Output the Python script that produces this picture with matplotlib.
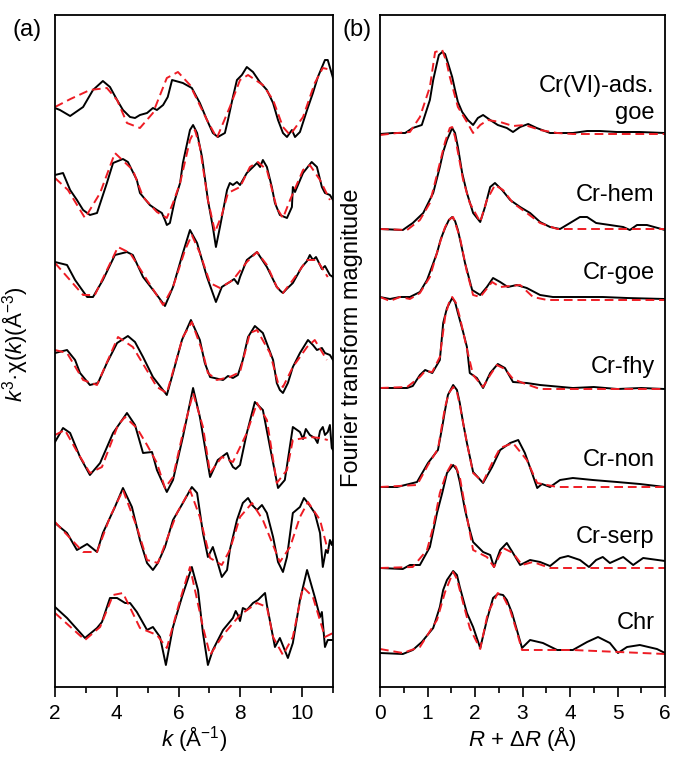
import matplotlib
matplotlib.use("Agg")
import matplotlib.pyplot as plt

plt.rcParams['font.family'] = ['Liberation Sans', 'DejaVu Sans']
plt.rcParams['mathtext.fontset'] = 'custom'
plt.rcParams['mathtext.rm'] = 'Liberation Sans'
plt.rcParams['mathtext.it'] = 'Liberation Sans:italic'
plt.rcParams['mathtext.bf'] = 'Liberation Sans:bold'

# sample names, top to bottom
samples = ["Cr(VI)-ads.\ngoe", "Cr-hem", "Cr-goe", "Cr-fhy", "Cr-non", "Cr-serp", "Chr"]

# ---------------- (a) k3-weighted EXAFS, stacked (arb. units) ----------------
k_ads = [2.00, 2.16, 2.49, 2.91, 3.23, 3.55, 3.78, 4.01, 4.20, 4.43, 4.59, 4.75, 4.98, 5.17, 5.30, 5.50, 5.65, 5.79, 6.14, 6.43,
         6.69, 6.92, 7.11, 7.27, 7.50, 7.60, 7.76, 7.89, 8.05, 8.21, 8.41, 8.63, 8.86, 9.06, 9.22, 9.38, 9.51, 9.67, 9.77, 9.93,
         10.16, 10.35, 10.51, 10.74, 10.83, 11.00]
chi_ads = [579, 577, 571, 580, 597, 606, 600, 587, 577, 570, 569, 572, 574, 579, 577, 582, 590, 607, 604, 599,
           584, 567, 554, 550, 554, 567, 590, 607, 612, 620, 615, 605, 597, 584, 567, 554, 550, 557, 550, 555,
           577, 594, 610, 627, 627, 609]
kfit_ads = [2.00, 2.50, 3.13, 3.68, 4.01, 4.33, 4.75, 5.17, 5.62, 5.98, 6.37, 6.92, 7.24, 7.66, 7.99, 8.25, 8.73, 9.06, 9.38, 9.61,
            10.03, 10.41, 10.67, 10.96]
chifit_ads = [580, 588, 597, 599, 587, 564, 559, 574, 609, 615, 602, 567, 549, 580, 607, 612, 602, 587, 560, 552,
              570, 604, 619, 617]

k_hem = [2.00, 2.26, 2.49, 2.71, 2.91, 3.13, 3.36, 3.68, 3.88, 4.20, 4.36, 4.65, 4.75, 5.07, 5.30, 5.46, 5.56, 5.62, 5.72, 5.88,
         6.05, 6.14, 6.37, 6.47, 6.60, 6.76, 6.95, 7.11, 7.21, 7.34, 7.57, 7.66, 7.76, 7.89, 7.99, 8.21, 8.41, 8.54, 8.64, 8.73,
         8.86, 9.02, 9.12, 9.28, 9.51, 9.67, 9.70, 9.77, 10.03, 10.31, 10.48, 10.64, 10.74, 10.90, 11.00]
chi_hem = [512, 514, 497, 487, 477, 472, 474, 504, 524, 528, 525, 507, 494, 482, 477, 474, 467, 462, 464, 487,
           504, 524, 557, 562, 554, 530, 487, 460, 440, 460, 497, 504, 502, 505, 502, 514, 520, 524, 520, 527,
           520, 500, 484, 472, 469, 480, 500, 495, 514, 525, 520, 500, 494, 492, 487]
kfit_hem = [2.00, 2.42, 2.97, 3.46, 3.94, 4.52, 4.85, 5.30, 5.62, 5.82, 6.05, 6.37, 6.53, 6.69, 6.95, 7.18, 7.40, 7.60, 7.99, 8.31,
            8.57, 8.86, 9.18, 9.38, 9.61, 10.03, 10.25, 10.58, 10.90]
chifit_hem = [509, 497, 469, 494, 534, 517, 490, 475, 469, 484, 504, 547, 557, 540, 487, 455, 472, 494, 500, 520,
              525, 517, 479, 469, 487, 517, 522, 507, 487]

k_goe = [2.00, 2.39, 2.65, 3.04, 3.23, 3.55, 3.94, 4.33, 4.52, 4.85, 5.30, 5.56, 5.82, 6.14, 6.37, 6.60, 6.92, 7.21, 7.40, 7.50,
         7.66, 7.80, 7.92, 7.99, 8.21, 8.54, 8.86, 9.18, 9.30, 9.38, 9.50, 9.70, 9.99, 10.16, 10.25, 10.35, 10.45, 10.58, 10.64, 10.74,
         10.90, 11.00]
chi_goe = [425, 422, 407, 390, 390, 407, 432, 435, 432, 410, 392, 381, 400, 434, 457, 444, 410, 385, 400, 402,
           405, 408, 403, 410, 427, 435, 420, 400, 396, 394, 398, 404, 420, 426, 432, 427, 430, 422, 418, 421,
           412, 410]
kfit_goe = [2.00, 2.91, 3.29, 4.04, 4.43, 4.98, 5.50, 5.82, 6.21, 6.43, 6.69, 7.02, 7.34, 7.76, 8.21, 8.54, 8.86, 9.18, 9.38, 9.70,
            10.16, 10.48, 10.83]
chifit_goe = [424, 392, 392, 440, 434, 407, 382, 400, 437, 452, 434, 404, 399, 407, 425, 435, 422, 400, 394, 407,
              427, 427, 410]

k_fhy = [2.00, 2.39, 2.65, 2.81, 3.13, 3.39, 3.68, 4.01, 4.36, 4.59, 4.85, 5.17, 5.62, 5.82, 6.11, 6.40, 6.69, 6.85, 7.02, 7.44,
         7.60, 7.76, 7.92, 8.08, 8.25, 8.47, 8.73, 9.06, 9.18, 9.28, 9.38, 9.54, 9.70, 9.93, 10.19, 10.35, 10.48, 10.64, 10.74, 10.90,
         11.00]
chi_fhy = [334, 337, 327, 314, 302, 304, 324, 344, 351, 345, 330, 310, 292, 314, 347, 367, 347, 324, 310, 307,
           311, 309, 312, 327, 350, 361, 354, 327, 304, 297, 294, 304, 320, 334, 347, 342, 337, 339, 334, 332,
           327]
kfit_fhy = [2.00, 2.39, 2.91, 3.36, 4.04, 4.52, 5.30, 5.62, 6.14, 6.43, 6.79, 6.95, 7.24, 7.66, 7.99, 8.31, 8.54, 8.96, 9.22, 9.38,
            9.70, 10.16, 10.41, 10.80]
chifit_fhy = [337, 334, 307, 302, 350, 340, 300, 294, 350, 365, 334, 314, 307, 310, 315, 354, 357, 334, 304, 300,
              320, 340, 347, 327]

k_non = [2.00, 2.26, 2.49, 2.81, 3.13, 3.46, 3.88, 4.33, 4.59, 4.85, 5.14, 5.30, 5.62, 5.82, 6.14, 6.47, 6.69, 7.02, 7.27, 7.40,
         7.57, 7.66, 7.76, 7.85, 7.99, 8.21, 8.47, 8.73, 8.96, 9.22, 9.44, 9.70, 9.93, 10.03, 10.12, 10.25, 10.41, 10.50, 10.58, 10.67,
         10.74, 10.83, 10.90, 10.96, 11.00]
chi_non = [245, 259, 254, 230, 212, 224, 254, 274, 262, 234, 235, 217, 195, 207, 250, 299, 270, 210, 227, 230,
           234, 226, 220, 218, 222, 254, 285, 277, 240, 199, 207, 260, 255, 248, 258, 252, 249, 244, 256, 260,
           252, 255, 262, 239, 237]
kfit_non = [2.00, 2.32, 2.74, 3.13, 3.52, 4.04, 4.27, 4.65, 4.98, 5.30, 5.56, 5.82, 6.14, 6.47, 6.79, 7.02, 7.40, 7.76, 8.21, 8.54,
            8.86, 9.18, 9.51, 9.70, 10.25, 10.58, 10.83]
chifit_non = [252, 257, 234, 214, 220, 262, 270, 259, 242, 224, 199, 210, 254, 294, 260, 214, 230, 225, 254, 284,
              267, 204, 217, 247, 250, 249, 247]

k_serp = [2.00, 2.39, 2.71, 3.04, 3.36, 3.55, 3.94, 4.20, 4.49, 4.75, 4.98, 5.17, 5.33, 5.56, 5.82, 6.14, 6.43, 6.60, 6.79, 6.95,
          7.11, 7.24, 7.40, 7.57, 7.66, 7.89, 8.08, 8.25, 8.38, 8.54, 8.70, 8.86, 9.06, 9.22, 9.38, 9.51, 9.70, 9.93, 10.06, 10.19,
          10.41, 10.58, 10.67, 10.77, 10.83, 10.90, 10.96, 11.00]
chi_serp = [164, 154, 137, 143, 135, 154, 180, 199, 180, 147, 124, 117, 124, 140, 167, 184, 200, 194, 154, 130,
            140, 127, 110, 117, 137, 167, 184, 189, 182, 177, 182, 174, 150, 125, 115, 130, 174, 180, 189, 184,
            174, 154, 120, 137, 134, 147, 142, 147]
kfit_serp = [2.00, 2.91, 3.36, 3.78, 4.20, 4.65, 4.98, 5.33, 5.95, 6.37, 6.69, 7.02, 7.40, 7.66, 7.99, 8.38, 8.73, 9.28, 9.61, 9.93,
             10.19, 10.58, 10.83]
chifit_serp = [165, 135, 135, 170, 197, 160, 127, 124, 174, 197, 170, 129, 122, 137, 170, 184, 167, 125, 140, 170,
               185, 167, 137]

k_chr = [2.00, 2.39, 2.97, 3.36, 3.52, 3.78, 4.01, 4.27, 4.43, 4.65, 4.98, 5.17, 5.40, 5.59, 5.82, 6.11, 6.43, 6.63, 6.79, 6.95,
         7.11, 7.44, 7.76, 7.85, 7.92, 7.99, 8.08, 8.21, 8.41, 8.57, 8.70, 8.80, 8.86, 9.12, 9.28, 9.54, 9.70, 9.93, 10.16, 10.41,
         10.58, 10.64, 10.74, 10.83, 11.00]
chi_chr = [80, 69, 49, 59, 65, 89, 89, 84, 84, 75, 57, 60, 50, 22, 60, 90, 120, 97, 54, 22,
           37, 57, 69, 76, 72, 66, 79, 77, 84, 87, 91, 94, 82, 40, 49, 29, 44, 87, 117, 90,
           70, 75, 40, 47, 47]
kfit_chr = [2.00, 2.97, 3.46, 3.88, 4.20, 4.75, 5.30, 5.62, 6.05, 6.37, 6.79, 7.02, 7.44, 7.99, 8.54, 8.86, 9.06, 9.38, 9.70, 10.03,
            10.35, 10.74, 11.00]
chifit_chr = [74, 47, 60, 92, 94, 59, 52, 39, 87, 120, 60, 32, 52, 72, 84, 80, 50, 32, 50, 100,
              90, 50, 54]

# ---------------- (b) Fourier transform magnitude, stacked (arb. units) ----------------
r_ads = [0.00, 0.27, 0.53, 0.69, 0.88, 1.05, 1.12, 1.20, 1.24, 1.31, 1.37, 1.43, 1.52, 1.58, 1.64, 1.73, 1.85, 1.96, 2.06, 2.17,
         2.32, 2.48, 2.67, 2.80, 2.95, 3.12, 3.30, 3.58, 4.06, 4.36, 4.63, 4.99, 5.47, 6.00]
ft_ads = [553, 554, 554, 559, 562, 587, 607, 624, 632, 635, 633, 624, 610, 597, 585, 575, 567, 562, 569, 572,
          567, 562, 559, 555, 560, 563, 559, 554, 554, 556, 556, 555, 555, 554]
rfit_ads = [0.00, 0.36, 0.63, 0.84, 1.05, 1.16, 1.31, 1.40, 1.47, 1.64, 1.83, 1.96, 2.11, 2.27, 2.53, 2.80, 3.05, 3.37, 3.73, 4.06,
            6.00]
ftfit_ads = [552, 554, 555, 570, 600, 635, 637, 625, 610, 580, 565, 554, 562, 567, 565, 561, 562, 557, 554, 553,
             553]

r_hem = [0.00, 0.48, 0.69, 0.91, 1.12, 1.26, 1.33, 1.41, 1.52, 1.58, 1.64, 1.73, 1.83, 1.96, 2.11, 2.21, 2.32, 2.42, 2.57, 2.74,
         2.95, 3.16, 3.37, 3.58, 3.79, 4.00, 4.21, 4.36, 4.55, 4.84, 5.12, 5.26, 5.41, 5.62, 6.00]
ft_hem = [458, 457, 464, 474, 494, 520, 535, 547, 559, 554, 540, 514, 494, 474, 465, 480, 500, 504, 497, 487,
          480, 474, 465, 460, 458, 464, 470, 470, 464, 462, 460, 457, 462, 462, 457]
rfit_hem = [0.00, 0.57, 0.84, 1.05, 1.26, 1.37, 1.47, 1.52, 1.58, 1.75, 1.89, 2.11, 2.25, 2.42, 2.59, 2.80, 3.09, 3.37, 3.73, 6.00]
ftfit_hem = [458, 457, 467, 484, 524, 545, 559, 560, 550, 507, 484, 465, 487, 502, 497, 484, 474, 464, 458, 458]

r_goe = [0.00, 0.21, 0.42, 0.63, 0.84, 0.99, 1.20, 1.28, 1.37, 1.45, 1.52, 1.58, 1.64, 1.71, 1.79, 1.94, 2.11, 2.25, 2.38, 2.53,
         2.69, 2.88, 3.09, 3.37, 3.64, 4.06, 4.69, 5.20, 6.00]
ft_goe = [390, 388, 390, 390, 395, 407, 434, 448, 459, 467, 470, 466, 457, 442, 424, 397, 392, 400, 409, 405,
          400, 402, 399, 392, 390, 390, 390, 389, 388]
rfit_goe = [0.00, 0.21, 0.42, 0.63, 0.84, 1.05, 1.26, 1.37, 1.47, 1.54, 1.68, 1.83, 1.96, 2.11, 2.36, 2.53, 2.74, 2.95, 3.22, 3.52,
            6.00]
ftfit_goe = [390, 386, 390, 388, 394, 410, 444, 460, 468, 470, 450, 415, 392, 390, 405, 400, 401, 402, 390, 387,
             387]

r_fhy = [0.00, 0.57, 0.69, 0.84, 0.95, 1.10, 1.26, 1.33, 1.41, 1.52, 1.58, 1.64, 1.75, 1.83, 1.89, 2.04, 2.17, 2.32, 2.48, 2.63,
         2.80, 3.09, 3.37, 4.06, 4.50, 5.00, 5.50, 6.00]
ft_fhy = [299, 299, 301, 312, 317, 314, 327, 364, 379, 389, 385, 374, 355, 340, 314, 309, 299, 314, 323, 319,
          305, 304, 302, 299, 300, 298, 299, 298]
rfit_fhy = [0.00, 0.57, 0.84, 0.95, 1.10, 1.26, 1.37, 1.45, 1.52, 1.60, 1.68, 1.83, 1.96, 2.17, 2.32, 2.46, 2.63, 2.80, 3.01, 3.37,
            4.00, 6.00]
ftfit_fhy = [299, 300, 310, 316, 315, 330, 370, 384, 390, 384, 370, 338, 312, 300, 312, 322, 318, 308, 304, 298,
             298, 298]

r_non = [0.00, 0.36, 0.78, 1.01, 1.22, 1.31, 1.37, 1.43, 1.54, 1.62, 1.68, 1.75, 1.83, 1.96, 2.17, 2.36, 2.53, 2.74, 2.91, 3.05,
         3.20, 3.31, 3.41, 3.58, 3.79, 4.06, 4.48, 4.99, 5.47, 6.00]
ft_non = [200, 200, 205, 224, 237, 260, 277, 292, 302, 297, 284, 264, 244, 215, 204, 220, 237, 244, 247, 234,
          214, 199, 203, 200, 207, 209, 207, 205, 203, 200]
rfit_non = [0.00, 0.78, 1.01, 1.22, 1.37, 1.45, 1.54, 1.62, 1.68, 1.83, 1.96, 2.17, 2.36, 2.53, 2.80, 3.09, 3.31, 3.73, 6.00]
ftfit_non = [200, 202, 222, 238, 280, 294, 300, 295, 282, 244, 214, 205, 224, 239, 244, 227, 204, 200, 200]

r_serp = [0.00, 0.48, 0.63, 0.84, 1.05, 1.20, 1.31, 1.41, 1.54, 1.62, 1.68, 1.79, 1.89, 1.96, 2.17, 2.32, 2.40, 2.53, 2.67, 2.80,
          2.95, 3.16, 3.37, 3.58, 3.79, 3.96, 4.21, 4.40, 4.55, 4.69, 4.84, 5.12, 5.33, 5.54, 6.00]
ft_serp = [119, 118, 122, 122, 140, 174, 194, 214, 222, 217, 205, 177, 157, 145, 135, 132, 120, 137, 144, 134,
           122, 127, 125, 121, 129, 131, 127, 120, 127, 130, 124, 130, 122, 129, 126]
rfit_serp = [0.00, 0.69, 0.99, 1.12, 1.26, 1.40, 1.52, 1.60, 1.68, 1.83, 1.96, 2.25, 2.40, 2.59, 2.80, 2.99, 3.22, 3.58, 6.00]
ftfit_serp = [119, 120, 137, 160, 194, 214, 224, 220, 210, 170, 137, 130, 120, 139, 134, 122, 125, 119, 119]

r_chr = [0.00, 0.48, 0.69, 0.88, 1.12, 1.26, 1.33, 1.41, 1.54, 1.62, 1.68, 1.83, 1.96, 2.11, 2.25, 2.38, 2.48, 2.59, 2.67, 2.78,
         2.84, 2.99, 3.16, 3.43, 3.73, 4.06, 4.36, 4.59, 4.84, 5.01, 5.20, 5.47, 5.83, 6.00]
ft_chr = [34, 33, 37, 45, 59, 80, 97, 107, 116, 112, 100, 74, 60, 39, 67, 89, 93, 92, 87, 74,
          64, 39, 47, 44, 37, 37, 45, 50, 44, 34, 40, 42, 38, 34]
rfit_chr = [0.00, 0.48, 0.84, 1.20, 1.37, 1.54, 1.62, 1.75, 1.89, 2.11, 2.27, 2.48, 2.60, 2.74, 2.87, 2.99, 3.37, 4.06, 6.00]
ftfit_chr = [38, 34, 40, 67, 95, 115, 108, 84, 59, 38, 74, 94, 90, 77, 57, 37, 37, 37, 33]

# label baselines in panel (b)
label_y = [595, 486, 408, 314, 221, 144, 58]

exafs = [(k_ads, chi_ads, kfit_ads, chifit_ads), (k_hem, chi_hem, kfit_hem, chifit_hem),
         (k_goe, chi_goe, kfit_goe, chifit_goe), (k_fhy, chi_fhy, kfit_fhy, chifit_fhy),
         (k_non, chi_non, kfit_non, chifit_non), (k_serp, chi_serp, kfit_serp, chifit_serp),
         (k_chr, chi_chr, kfit_chr, chifit_chr)]
ft = [(r_ads, ft_ads, rfit_ads, ftfit_ads), (r_hem, ft_hem, rfit_hem, ftfit_hem),
      (r_goe, ft_goe, rfit_goe, ftfit_goe), (r_fhy, ft_fhy, rfit_fhy, ftfit_fhy),
      (r_non, ft_non, rfit_non, ftfit_non), (r_serp, ft_serp, rfit_serp, ftfit_serp),
      (r_chr, ft_chr, rfit_chr, ftfit_chr)]

red = '#ee1c24'
fig = plt.figure(figsize=(6.73, 7.58), dpi=100)
ax1 = fig.add_axes([55 / 673, 71 / 758, 278 / 673, 672 / 758])
ax2 = fig.add_axes([380 / 673, 71 / 758, 285 / 673, 672 / 758])

for x, y, xf, yf in exafs:
    ax1.plot(x, y, color='black', lw=1.4)
    ax1.plot(xf, yf, color=red, lw=1.4, ls=(0, (4.5, 2.5)))
for x, y, xf, yf in ft:
    ax2.plot(x, y, color='black', lw=1.4)
    ax2.plot(xf, yf, color=red, lw=1.4, ls=(0, (4.5, 2.5)))

for name, yl in zip(samples, label_y):
    lines = name.split("\n")
    for j, ln in enumerate(lines):
        ax2.text(5.78, yl - j * 27, ln, ha='right', va='baseline', fontsize=17)

ax1.set_xlim(2, 11)
ax1.set_xticks([2, 4, 6, 8, 10])
ax1.set_xticks([3, 5, 7, 9, 11], minor=True)
ax2.set_xlim(0, 6)
ax2.set_xticks([0, 1, 2, 3, 4, 5, 6])
ax2.set_xticks([0.5, 1.5, 2.5, 3.5, 4.5, 5.5], minor=True)

for ax in (ax1, ax2):
    ax.set_ylim(0, 672)
    ax.set_yticks([])
    ax.tick_params(axis='x', which='major', direction='out', length=7, width=1.2, labelsize=15, pad=5)
    ax.tick_params(axis='x', which='minor', direction='out', length=4, width=1.2)
    for s in ax.spines.values():
        s.set_linewidth(1.3)

ax1.set_xlabel(r'$k$ (Å$^{-1}$)', fontsize=16, labelpad=1)
ax2.set_xlabel(r'$R$ + $\mathit{\Delta R}$ (Å)', fontsize=16, labelpad=1)
ax1.set_ylabel(r'$k^3$·χ($k$)(Å$^{-3}$)', fontsize=16)
ax1.yaxis.set_label_coords(-0.09, 0.51)
ax2.set_ylabel('Fourier transform magnitude', fontsize=17)
ax2.yaxis.set_label_coords(-0.06, 0.52)

fig.text(12 / 673, 1 - 36 / 758, '(a)', fontsize=17)
fig.text(343 / 673, 1 - 36 / 758, '(b)', fontsize=17)

fig.savefig('out.png', dpi=100)
